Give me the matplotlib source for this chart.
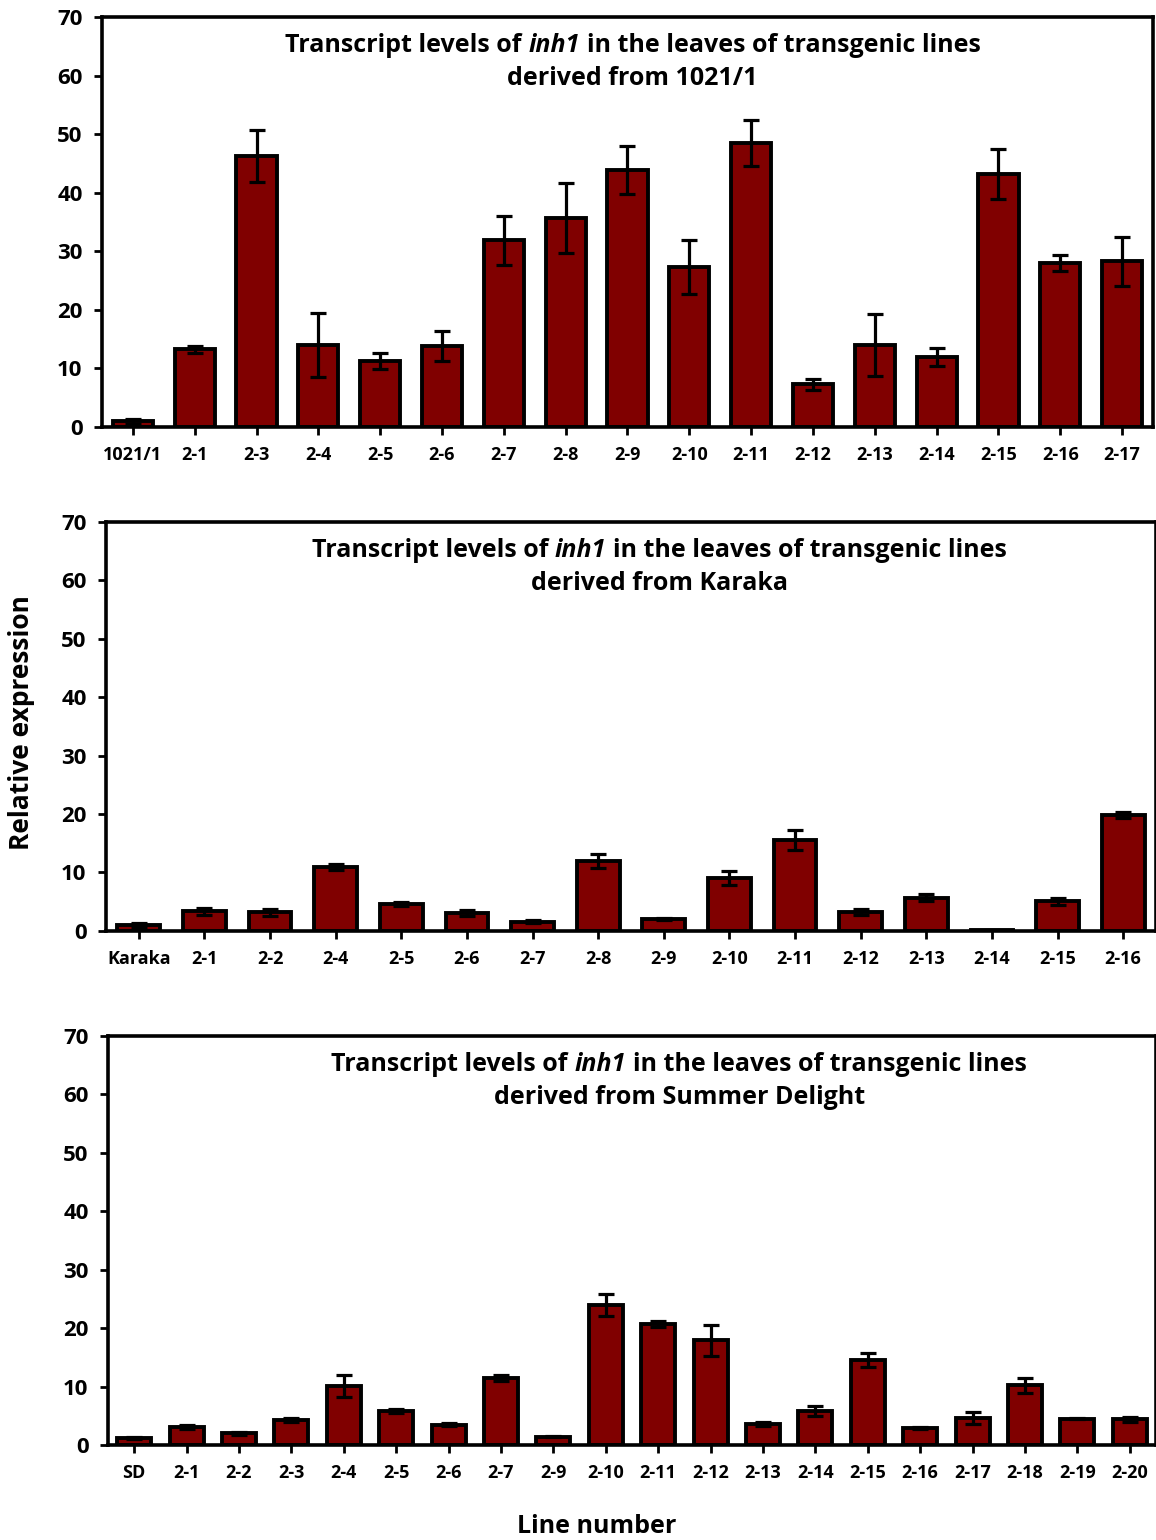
import matplotlib
matplotlib.use("Agg")
import matplotlib.pyplot as plt
import numpy as np

plt.rcParams['font.family'] = ['Open Sans', 'DejaVu Sans']
plt.rcParams['font.weight'] = 'bold'

# panel 1: lines derived from 1021/1
labels_1021 = ['1021/1', '2-1', '2-3', '2-4', '2-5', '2-6', '2-7', '2-8', '2-9',
               '2-10', '2-11', '2-12', '2-13', '2-14', '2-15', '2-16', '2-17']
values_1021 = [1.0, 13.3, 46.3, 14.0, 11.3, 13.8, 31.9, 35.7, 43.9,
               27.3, 48.5, 7.3, 14.0, 12.0, 43.2, 28.0, 28.3]
errors_1021 = [0.4, 0.6, 4.4, 5.4, 1.4, 2.6, 4.2, 6.0, 4.1,
               4.6, 4.0, 0.9, 5.3, 1.5, 4.2, 1.3, 4.2]

# panel 2: lines derived from Karaka
labels_karaka = ['Karaka', '2-1', '2-2', '2-4', '2-5', '2-6', '2-7', '2-8', '2-9',
                 '2-10', '2-11', '2-12', '2-13', '2-14', '2-15', '2-16']
values_karaka = [1.0, 3.4, 3.2, 11.0, 4.6, 3.1, 1.6, 12.0, 2.0,
                 9.1, 15.6, 3.2, 5.7, 0.1, 5.1, 19.8]
errors_karaka = [0.3, 0.6, 0.6, 0.5, 0.3, 0.5, 0.2, 1.2, 0.2,
                 1.2, 1.7, 0.5, 0.6, 0.1, 0.6, 0.5]

# panel 3: lines derived from Summer Delight
labels_sd = ['SD', '2-1', '2-2', '2-3', '2-4', '2-5', '2-6', '2-7', '2-9', '2-10',
             '2-11', '2-12', '2-13', '2-14', '2-15', '2-16', '2-17', '2-18', '2-19', '2-20']
values_sd = [1.2, 3.1, 2.0, 4.3, 10.1, 5.8, 3.5, 11.5, 1.4, 23.9,
             20.7, 17.9, 3.6, 5.8, 14.6, 2.9, 4.6, 10.2, 4.5, 4.4]
errors_sd = [0.2, 0.4, 0.3, 0.4, 1.9, 0.3, 0.2, 0.5, 0.1, 1.9,
             0.5, 2.6, 0.4, 0.8, 1.2, 0.2, 1.0, 1.3, 0.1, 0.4]

panels = [
    (labels_1021, values_1021, errors_1021, '1021/1', [0.0882, 0.7227, 0.9092, 0.2662], 0.505),
    (labels_karaka, values_karaka, errors_karaka, 'Karaka', [0.0917, 0.3955, 0.9083, 0.2656], 0.527),
    (labels_sd, values_sd, errors_sd, 'Summer Delight', [0.0934, 0.0617, 0.9066, 0.2656], 0.545),
]

fig = plt.figure(figsize=(11.56, 15.40), dpi=100)
renderer = fig.canvas.get_renderer()

for labels, values, errors, source, rect, title_x in panels:
    ax = fig.add_axes(rect)
    x = np.arange(len(labels))
    ax.bar(x, values, width=0.65, color='#800000', edgecolor='black', linewidth=2.8, zorder=2)
    ax.errorbar(x, values, yerr=errors, fmt='none', ecolor='black', elinewidth=2.3,
                capsize=6, capthick=2.3, zorder=3)
    ax.set_xlim(-0.5, len(labels) - 0.5)
    ax.set_ylim(0, 70)
    ax.set_yticks(range(0, 71, 10))
    ax.set_xticks(x)
    ax.set_xticklabels(labels, fontsize=13, fontweight='bold')
    for lab in ax.get_yticklabels():
        lab.set_fontsize(16)
        lab.set_fontweight('bold')
    ax.tick_params(axis='y', length=6, width=2, pad=8)
    ax.tick_params(axis='x', length=6, width=2, pad=8)
    for sp in ax.spines.values():
        sp.set_linewidth(2.6)

    # title line 1 with italic gene name, centred as a whole
    parts = [('Transcript levels of', 'normal'), ('inh1', 'italic'),
             ('in the leaves of transgenic lines', 'normal')]
    texts = [ax.text(0, 0.93, s, transform=ax.transAxes, fontsize=18, fontweight='bold',
                     style=st, ha='left', va='center') for s, st in parts]
    widths = [t.get_window_extent(renderer).width for t in texts]
    gap = 7
    total = sum(widths) + gap * (len(widths) - 1)
    ax_box = ax.get_window_extent(renderer)
    left = ax_box.x0 + title_x * ax_box.width - total / 2
    for t, w in zip(texts, widths):
        t.set_x((left - ax_box.x0) / ax_box.width)
        left += w + gap
    ax.text(title_x, 0.85, 'derived from ' + source, transform=ax.transAxes,
            fontsize=18, fontweight='bold', ha='center', va='center')

fig.text(0.019, 0.531, 'Relative expression', rotation=90, fontsize=19,
         fontweight='bold', ha='center', va='center')
fig.text(0.516, 0.0085, 'Line number', fontsize=18, fontweight='bold',
         ha='center', va='center')

fig.savefig('out.png', dpi=100)
